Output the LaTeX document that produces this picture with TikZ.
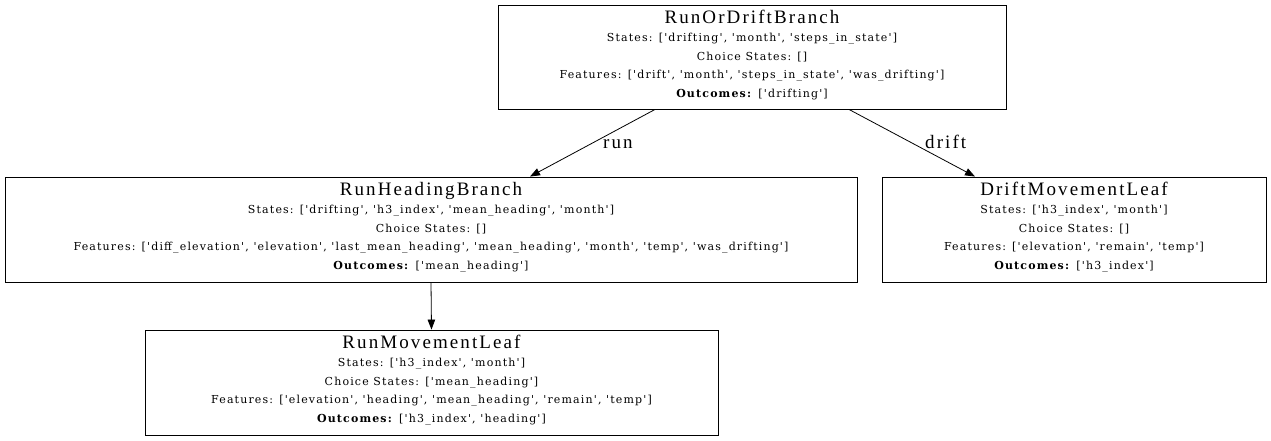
\documentclass[tikz,border=0pt]{standalone}
\usepackage{fontspec}
\setmainfont{DejaVu Serif}[Ligatures=TeXOff, LetterSpace=10.5]
\newfontfamily\titlefont{Liberation Serif}[LetterSpace=11]
\usetikzlibrary{arrows.meta,calc}
\begin{document}
\begin{tikzpicture}[x=1pt,y=-1pt,
  box/.style={draw, line width=0.9pt, inner sep=0pt, rectangle},
  ttl/.style={anchor=base, inner sep=0pt, font=\titlefont\fontsize{19}{19}\selectfont},
  ln/.style={anchor=base, inner sep=0pt, font=\fontsize{11}{13}\selectfont},
  conn/.style={draw, line width=0.8pt, -{Triangle[length=10pt,width=7.5pt]}},
  elab/.style={anchor=base west, inner sep=0pt, font=\titlefont\fontsize{19}{19}\selectfont}]
\useasboundingbox (0,0) rectangle (1271,440);

% boxes
\node[box, minimum width=508pt, minimum height=104pt] (rod) at (752,57) {};
\node[box, minimum width=852pt, minimum height=105pt] (rhb) at (431,229.5) {};
\node[box, minimum width=384pt, minimum height=105pt] (dml) at (1074,229.5) {};
\node[box, minimum width=573pt, minimum height=105pt] (rml) at (431.5,382.5) {};

% RunOrDriftBranch
\node[ttl, yshift=-19pt] (rodT) at (rod.north) {RunOrDriftBranch};
\node[ln, yshift=-37pt] (rod1) at (rod.north) {States: ['drifting', 'month', 'steps\_in\_state']};
\node[ln, yshift=-56pt] (rod2) at (rod.north) {Choice States: []};
\node[ln, yshift=-74pt] (rod3) at (rod.north) {Features: ['drift', 'month', 'steps\_in\_state', 'was\_drifting']};
\node[ln, yshift=-93pt] (rod4) at (rod.north) {\textbf{Outcomes:} ['drifting']};

% RunHeadingBranch
\node[ttl, yshift=-19pt] (rhbT) at (rhb.north) {RunHeadingBranch};
\node[ln, yshift=-37pt] (rhb1) at (rhb.north) {States: ['drifting', 'h3\_index', 'mean\_heading', 'month']};
\node[ln, yshift=-56pt] (rhb2) at (rhb.north) {Choice States: []};
\node[ln, yshift=-74pt] (rhb3) at (rhb.north) {Features: ['diff\_elevation', 'elevation', 'last\_mean\_heading', 'mean\_heading', 'month', 'temp', 'was\_drifting']};
\node[ln, yshift=-93pt] (rhb4) at (rhb.north) {\textbf{Outcomes:} ['mean\_heading']};

% DriftMovementLeaf
\node[ttl, yshift=-19pt] (dmlT) at (dml.north) {DriftMovementLeaf};
\node[ln, yshift=-37pt] (dml1) at (dml.north) {States: ['h3\_index', 'month']};
\node[ln, yshift=-56pt] (dml2) at (dml.north) {Choice States: []};
\node[ln, yshift=-74pt] (dml3) at (dml.north) {Features: ['elevation', 'remain', 'temp']};
\node[ln, yshift=-93pt] (dml4) at (dml.north) {\textbf{Outcomes:} ['h3\_index']};

% RunMovementLeaf
\node[ttl, yshift=-19pt] (rmlT) at (rml.north) {RunMovementLeaf};
\node[ln, yshift=-37pt] (rml1) at (rml.north) {States: ['h3\_index', 'month']};
\node[ln, yshift=-56pt] (rml2) at (rml.north) {Choice States: ['mean\_heading']};
\node[ln, yshift=-74pt] (rml3) at (rml.north) {Features: ['elevation', 'heading', 'mean\_heading', 'remain', 'temp']};
\node[ln, yshift=-93pt] (rml4) at (rml.north) {\textbf{Outcomes:} ['h3\_index', 'heading']};

% connectors
\draw[conn] ($(rod.south)+(-97,0)$) -- ($(rhb.north)+(99,0)$);
\draw[conn] ($(rod.south)+(97,0)$) -- ($(dml.north)+(-99,0)$);
\draw[conn] (rhb.south) -- (rml.north);

% edge labels
\node[elab] (lrun) at (603,148) {run};
\node[elab] (ldrift) at (925,148) {drift};
\end{tikzpicture}
\end{document}
